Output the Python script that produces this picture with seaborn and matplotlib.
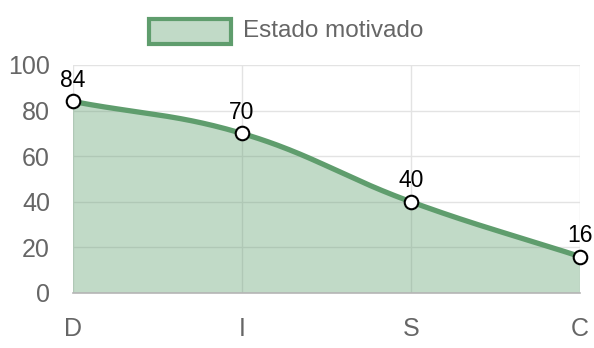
import numpy as np
import pandas as pd
import matplotlib
matplotlib.use("Agg")
import matplotlib.pyplot as plt
from matplotlib.patches import Rectangle
import seaborn as sns

categories = ["D", "I", "S", "C"]
values = [84, 70, 40, 16]
series_name = "Estado motivado"
y_ticks = [0, 20, 40, 60, 80, 100]

LINE = "#5f9d6d"
FILL = (0.37, 0.62, 0.43, 0.38)
GRID = "#e3e3e3"
TXT = "#666666"

sns.set_theme(style="white")
plt.rcParams["font.family"] = ["Liberation Sans", "DejaVu Sans"]

W, H = 594, 348
fig = plt.figure(figsize=(W / 100, H / 100), dpi=100)
L, R, T, B = 73, 580, 65, 293
ax = fig.add_axes([L / W, 1 - B / H, (R - L) / W, (B - T) / H])

df = pd.DataFrame({"cat": categories, "x": np.arange(len(categories)), "v": values})
ax.set_xlim(0, len(categories) - 1)
ax.set_ylim(0, 100)

# Chart.js-like spline (tension 0.4) computed in pixel space
pts = ax.transData.transform(np.column_stack([df["x"], df["v"]]).astype(float))
n = len(pts)
cps = []
t = 0.4
for i in range(n):
    prev = pts[i - 1] if i > 0 else pts[i]
    cur = pts[i]
    nxt = pts[i + 1] if i < n - 1 else pts[i]
    d01 = np.hypot(*(cur - prev))
    d12 = np.hypot(*(nxt - cur))
    tot = d01 + d12 if d01 + d12 > 0 else 1
    s01, s12 = d01 / tot, d12 / tot
    cp_prev = cur - t * s01 * (nxt - prev)
    cp_next = cur + t * s12 * (nxt - prev)
    cps.append((cp_prev, cp_next))
curve = []
ss = np.linspace(0, 1, 60)
for i in range(n - 1):
    P0, P1, P2, P3 = pts[i], cps[i][1], cps[i + 1][0], pts[i + 1]
    seg = ((1 - ss) ** 3)[:, None] * P0 + (3 * (1 - ss) ** 2 * ss)[:, None] * P1 \
        + (3 * (1 - ss) * ss ** 2)[:, None] * P2 + (ss ** 3)[:, None] * P3
    curve.append(seg if i == 0 else seg[1:])
curve = np.vstack(curve)
cdata = ax.transData.inverted().transform(curve)
cdf = pd.DataFrame({"x": cdata[:, 0], "y": cdata[:, 1]})

# grid
for yv in y_ticks:
    ax.axhline(yv, color=GRID, lw=1, zorder=0)
for xv in df["x"]:
    ax.axvline(xv, color=GRID, lw=1, zorder=0)

poly_x = np.concatenate([cdf["x"], [cdf["x"].iloc[-1], cdf["x"].iloc[0]]])
poly_y = np.concatenate([cdf["y"], [0, 0]])
ax.fill(poly_x, poly_y, color=FILL, lw=0, zorder=1)
sns.lineplot(data=cdf, x="x", y="y", ax=ax, color=LINE, lw=3.8, sort=False,
             estimator=None, zorder=3, clip_on=False)
sns.scatterplot(data=df, x="x", y="v", ax=ax, s=95, color="white",
                edgecolor="black", linewidth=1.5, zorder=5, clip_on=False)
for _, r in df.iterrows():
    ax.annotate(str(r["v"]), (r["x"], r["v"]), xytext=(0, 7),
                textcoords="offset points", ha="center", va="bottom",
                fontsize=16.5, color="black", zorder=6, annotation_clip=False)

ax.set_xticks(df["x"])
ax.set_xticklabels(categories)
ax.set_yticks(y_ticks)
ax.set_xlabel("")
ax.set_ylabel("")
ax.tick_params(axis="both", length=15, width=1, color=GRID, labelcolor=TXT,
               labelsize=18, direction="out")
ax.tick_params(axis="y", pad=1.5)
ax.tick_params(axis="x", pad=2)
for s in ["top", "right", "left"]:
    ax.spines[s].set_visible(False)
ax.spines["bottom"].set_color("#b5b5b5")
ax.spines["bottom"].set_linewidth(1.2)
ax.spines["bottom"].set_zorder(2)

# legend
fig.patches.append(Rectangle((149 / W, 1 - 44 / H), 82 / W, 25 / H,
                             transform=fig.transFigure, facecolor=FILL,
                             edgecolor=LINE, lw=3))
fig.text(243 / W, 1 - 31 / H, series_name, ha="left", va="center",
         fontsize=17.5, color=TXT)

fig.savefig("out.png", dpi=100)
